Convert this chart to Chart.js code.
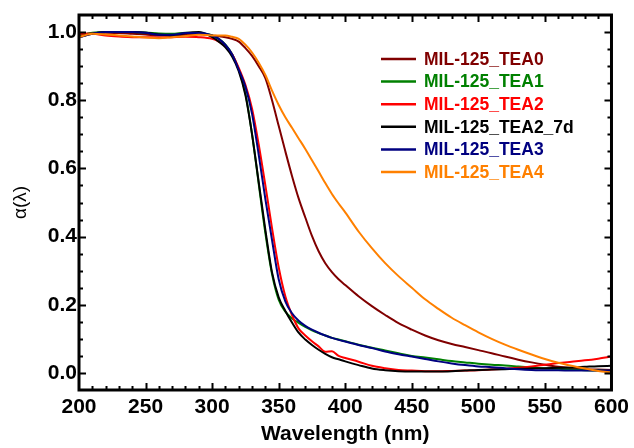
<!DOCTYPE html>
<html>
<head>
<meta charset="utf-8">
<script src="https://cdn.jsdelivr.net/npm/chart.js@4.4.1/dist/chart.umd.min.js"></script>
<style>
  html, body { margin: 0; padding: 0; background: #fff; }
  canvas { display: block; }
</style>
</head>
<body>
<canvas id="myChart" width="634" height="448"></canvas>
<script>
// wavelength (nm)
const wavelength = [200, 210, 220, 230, 240, 250, 260, 270, 280, 290,
  300, 305, 310, 315, 320, 325, 330, 335, 340, 345, 350, 355, 360, 365, 370, 375, 380, 385, 390, 395,
  400, 410, 420, 430, 440, 450, 460, 470, 480, 490, 500, 510, 520, 530, 540, 550, 560, 570, 580, 590, 600]

const tea0 = [0.990, 0.997, 0.998, 0.997, 0.995, 0.993, 0.990, 0.990, 0.993, 0.995,
  0.990, 0.988, 0.985, 0.980, 0.972, 0.953, 0.930, 0.900, 0.865, 0.800, 0.725, 0.650, 0.578, 0.512, 0.456, 0.402, 0.357, 0.322, 0.296, 0.275,
  0.258, 0.225, 0.196, 0.170, 0.146, 0.127, 0.110, 0.096, 0.085, 0.076, 0.067, 0.058, 0.048, 0.039, 0.031, 0.024, 0.018, 0.014, 0.011, 0.010, 0.009]

const tea1 = [0.990, 0.998, 1.000, 1.000, 1.000, 0.999, 0.996, 0.995, 0.998, 0.997,
  0.990, 0.980, 0.963, 0.935, 0.890, 0.820, 0.700, 0.555, 0.410, 0.290, 0.215, 0.180, 0.160, 0.147, 0.135, 0.125, 0.117, 0.110, 0.103, 0.098,
  0.093, 0.083, 0.074, 0.066, 0.058, 0.050, 0.045, 0.040, 0.035, 0.031, 0.027, 0.024, 0.022, 0.019, 0.016, 0.013, 0.012, 0.010, 0.008, 0.007, 0.006]

const tea2 = [0.995, 0.995, 0.990, 0.987, 0.985, 0.985, 0.984, 0.985, 0.986, 0.985,
  0.980, 0.972, 0.958, 0.935, 0.895, 0.845, 0.775, 0.670, 0.550, 0.425, 0.310, 0.225, 0.170, 0.130, 0.110, 0.093, 0.078, 0.062, 0.064, 0.050,
  0.044, 0.033, 0.021, 0.014, 0.009, 0.007, 0.005, 0.005, 0.006, 0.007, 0.008, 0.010, 0.012, 0.015, 0.019, 0.024, 0.029, 0.033, 0.037, 0.042, 0.048]

const tea2_7d = [0.985, 0.995, 1.000, 1.000, 1.000, 0.998, 0.993, 0.990, 0.997, 1.000,
  0.985, 0.972, 0.955, 0.928, 0.885, 0.815, 0.700, 0.560, 0.420, 0.295, 0.222, 0.182, 0.148, 0.118, 0.098, 0.082, 0.068, 0.056, 0.046, 0.040,
  0.034, 0.023, 0.013, 0.008, 0.005, 0.004, 0.004, 0.004, 0.005, 0.007, 0.009, 0.010, 0.011, 0.012, 0.013, 0.014, 0.015, 0.016, 0.018, 0.020, 0.021]

const tea3 = [0.985, 0.995, 1.000, 1.000, 1.000, 0.998, 0.992, 0.992, 0.997, 0.997,
  0.990, 0.980, 0.962, 0.935, 0.890, 0.840, 0.760, 0.640, 0.510, 0.390, 0.275, 0.210, 0.175, 0.153, 0.138, 0.127, 0.118, 0.110, 0.103, 0.097,
  0.092, 0.082, 0.073, 0.063, 0.055, 0.048, 0.041, 0.034, 0.028, 0.023, 0.019, 0.017, 0.014, 0.011, 0.009, 0.008, 0.008, 0.007, 0.007, 0.007, 0.007]

const tea4 = [0.985, 0.995, 0.993, 0.990, 0.987, 0.984, 0.982, 0.985, 0.988, 0.992,
  0.990, 0.990, 0.990, 0.986, 0.980, 0.963, 0.940, 0.910, 0.874, 0.828, 0.786, 0.750, 0.719, 0.688, 0.657, 0.624, 0.591, 0.557, 0.525, 0.497,
  0.471, 0.415, 0.366, 0.322, 0.284, 0.250, 0.216, 0.188, 0.162, 0.140, 0.119, 0.100, 0.083, 0.068, 0.054, 0.041, 0.030, 0.021, 0.013, 0.006, 0.001]

const seriesNames = ['MIL-125_TEA0', 'MIL-125_TEA1', 'MIL-125_TEA2', 'MIL-125_TEA2_7d', 'MIL-125_TEA3', 'MIL-125_TEA4']
const seriesColors = ['#800000', '#008000', '#ff0000', '#000000', '#000080', '#ff8000']
const seriesValues = [tea0, tea1, tea2, tea2_7d, tea3, tea4]

const xTicks = [200, 250, 300, 350, 400, 450, 500, 550, 600]
const yTicks = [0.0, 0.2, 0.4, 0.6, 0.8, 1.0]

const FONT = '"Liberation Sans", Arial, sans-serif'

// рамка и тики внутрь, как в Origin
const frameTicks = {
  id: 'frameTicks',
  afterDraw(chart) {
    const ctx = chart.ctx
    const a = chart.chartArea
    const x = chart.scales.x
    const y = chart.scales.y
    ctx.save()
    ctx.strokeStyle = '#000'
    ctx.lineWidth = 2
    ctx.beginPath()
    for (let v = 210; v < 600; v += 10) {
      const px = Math.round(x.getPixelForValue(v)) + 0.5
      const len = v % 50 === 0 ? 7 : 4
      ctx.moveTo(px, a.bottom); ctx.lineTo(px, a.bottom - len)
      ctx.moveTo(px, a.top); ctx.lineTo(px, a.top + len)
    }
    for (let k = 0; k <= 20; k++) {
      const py = Math.round(y.getPixelForValue(k * 0.05)) + 0.5
      const len = k % 4 === 0 ? 7 : 4
      ctx.moveTo(a.left, py); ctx.lineTo(a.left + len, py)
      ctx.moveTo(a.right, py); ctx.lineTo(a.right - len, py)
    }
    ctx.stroke()
    ctx.lineWidth = 3
    ctx.strokeRect(a.left, a.top, a.right - a.left, a.bottom - a.top)
    ctx.restore()
  }
}

// легенда справа сверху
const legendBox = {
  id: 'legendBox',
  afterDatasetsDraw(chart) {
    const ctx = chart.ctx
    ctx.save()
    ctx.font = 'bold 17.5px ' + FONT
    ctx.textBaseline = 'middle'
    chart.data.datasets.forEach((ds, i) => {
      const yy = 59 + i * 22.6
      ctx.strokeStyle = ds.borderColor
      ctx.lineWidth = 2.5
      ctx.beginPath()
      ctx.moveTo(381, yy)
      ctx.lineTo(416, yy)
      ctx.stroke()
      ctx.fillStyle = ds.borderColor
      ctx.fillText(ds.label, 424, yy + 1)
    })
    ctx.restore()
  }
}

const datasets = seriesNames.map((name, i) => ({
  label: name,
  data: wavelength.map((w, j) => ({ x: w, y: seriesValues[i][j] })),
  borderColor: seriesColors[i],
  backgroundColor: seriesColors[i],
  borderWidth: 2,
  pointRadius: 0,
  cubicInterpolationMode: 'monotone',
  order: seriesNames.length - i
}))

new Chart(document.getElementById('myChart'), {
  type: 'line',
  data: { datasets: datasets },
  plugins: [frameTicks, legendBox],
  options: {
    responsive: false,
    animation: false,
    devicePixelRatio: 1,
    layout: { padding: { top: 15, right: 20, left: 0, bottom: 0 } },
    plugins: {
      legend: { display: false },
      tooltip: { enabled: false }
    },
    scales: {
      x: {
        type: 'linear',
        min: 200,
        max: 600,
        afterBuildTicks: (scale) => { scale.ticks = xTicks.map(v => ({ value: v })) },
        afterFit: (scale) => { scale.height = 58 },
        grid: { display: false, drawTicks: false },
        border: { display: false },
        ticks: {
          padding: 5,
          color: '#000',
          maxRotation: 0,
          font: { family: FONT, size: 21, weight: 'bold' }
        },
        title: {
          display: true,
          text: 'Wavelength (nm)',
          color: '#000',
          padding: { top: 0, bottom: 1 },
          font: { family: FONT, size: 21, weight: 'bold' }
        }
      },
      y: {
        min: -0.05,
        max: 1.05,
        afterBuildTicks: (scale) => { scale.ticks = yTicks.map(v => ({ value: v })) },
        afterFit: (scale) => { scale.width = 79 },
        grid: { display: false, drawTicks: false },
        border: { display: false },
        ticks: {
          padding: 2,
          color: '#000',
          font: { family: FONT, size: 21, weight: 'bold' },
          callback: (v) => Number(v).toFixed(1)
        },
        title: {
          display: true,
          text: 'α(λ)',
          color: '#000',
          padding: { top: 9, bottom: 0 },
          font: { family: FONT, size: 19 }
        }
      }
    }
  }
})
</script>
</body>
</html>
